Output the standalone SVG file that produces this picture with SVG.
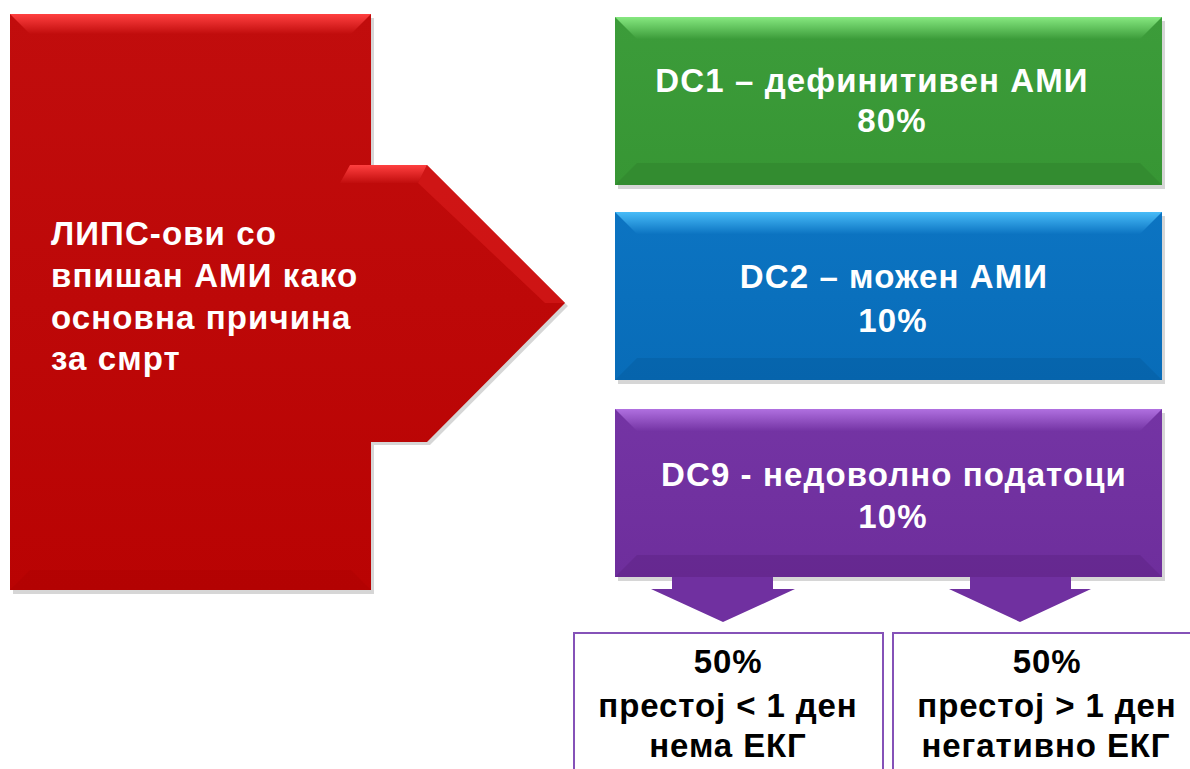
<svg xmlns="http://www.w3.org/2000/svg" width="1190" height="769" viewBox="0 0 1190 769">
<defs>
<style>
.w{font-family:"Liberation Sans",Arial,sans-serif;font-weight:bold;fill:#fff;font-size:33px;letter-spacing:1.1px}
.k{font-family:"Liberation Sans",Arial,sans-serif;font-weight:bold;fill:#000;font-size:33px;letter-spacing:0.9px}
.sh{fill:#c4c4c4;opacity:0.7}
.box{fill:#fff;stroke:#8552b8;stroke-width:2}
</style>
<linearGradient id="gR" x1="0" y1="0" x2="0" y2="1"><stop offset="0" stop-color="#c10d0d"/><stop offset="1" stop-color="#b90303"/></linearGradient>
<linearGradient id="bR" x1="0" y1="0" x2="0" y2="1"><stop offset="0" stop-color="#ff4040"/><stop offset="1" stop-color="#c10d0d"/></linearGradient>
<linearGradient id="gG" x1="0" y1="0" x2="0" y2="1"><stop offset="0" stop-color="#3c9c3a"/><stop offset="1" stop-color="#379634"/></linearGradient>
<linearGradient id="bG" x1="0" y1="0" x2="0" y2="1"><stop offset="0" stop-color="#86e880"/><stop offset="1" stop-color="#3c9c3a"/></linearGradient>
<linearGradient id="gB" x1="0" y1="0" x2="0" y2="1"><stop offset="0" stop-color="#0c74c2"/><stop offset="1" stop-color="#086cb8"/></linearGradient>
<linearGradient id="bB" x1="0" y1="0" x2="0" y2="1"><stop offset="0" stop-color="#48bcf8"/><stop offset="1" stop-color="#0c74c2"/></linearGradient>
<linearGradient id="gP" x1="0" y1="0" x2="0" y2="1"><stop offset="0" stop-color="#7434a4"/><stop offset="1" stop-color="#6e2e9c"/></linearGradient>
<linearGradient id="bP" x1="0" y1="0" x2="0" y2="1"><stop offset="0" stop-color="#b070e0"/><stop offset="1" stop-color="#7434a4"/></linearGradient>
</defs>

<g id="source">
<path class="sh" d="M13,18 H374 V169 H430 L568,306 L430,445 H374 V594 H13 Z"/>
<path fill="url(#gR)" d="M10,14 H371 V165 H427 L565,303 L427,442 H371 V590 H10 Z"/>
<polygon fill="url(#bR)" points="10,14 371,14 351,34 30,34"/>
<polygon fill="#a80202" opacity="0.35" points="10,590 371,590 351,570 30,570"/>
<polygon fill="url(#bR)" points="350,165 427,165 418,183 340,183"/>
<polygon fill="#e02020" opacity="0.5" points="427,165 565,303 545,303 418,183"/>
<text class="w" letter-spacing="0.9"><tspan x="51" y="245">ЛИПС-ови со</tspan><tspan x="51" y="287">впишан АМИ како</tspan><tspan x="51" y="329">основна причина</tspan><tspan x="51" y="370">за смрт</tspan></text>
</g>

<g id="dc1">
<rect class="sh" x="618" y="21" width="547" height="168"/>
<rect fill="url(#gG)" x="615" y="17" width="547" height="168"/>
<polygon fill="url(#bG)" points="615,17 1162,17 1140,39 637,39"/>
<polygon fill="#2d7d2b" opacity="0.4" points="615,185 1162,185 1140,163 637,163"/>
<text class="w" text-anchor="middle"><tspan x="872" y="92">DC1 – дефинитивен АМИ</tspan><tspan x="892" y="132">80%</tspan></text>
</g>

<g id="dc2">
<rect class="sh" x="618" y="216" width="547" height="168"/>
<rect fill="url(#gB)" x="615" y="212" width="547" height="168"/>
<polygon fill="url(#bB)" points="615,212 1162,212 1140,234 637,234"/>
<polygon fill="#055a9a" opacity="0.4" points="615,380 1162,380 1140,358 637,358"/>
<text class="w" text-anchor="middle"><tspan x="894" y="288">DC2 – можен АМИ</tspan><tspan x="893" y="332">10%</tspan></text>
</g>

<g id="dc9">
<rect class="sh" x="618" y="413" width="547" height="168"/>
<rect fill="url(#gP)" x="615" y="409" width="547" height="168"/>
<polygon fill="url(#bP)" points="615,409 1162,409 1140,431 637,431"/>
<polygon fill="#5a2080" opacity="0.4" points="615,577 1162,577 1140,555 637,555"/>
<text class="w" text-anchor="middle"><tspan x="894" y="486">DC9 - недоволно податоци</tspan><tspan x="893" y="528">10%</tspan></text>
</g>

<g id="connectors">
<polygon fill="#7030a0" points="672,577 773,577 773,589 795,589 723,622 651,589 672,589"/>
<polygon fill="#7030a0" points="970,577 1071,577 1071,589 1091,589 1020,622 949,589 970,589"/>
</g>

<g id="out1">
<rect class="box" x="574" y="633" width="309" height="150"/>
<text class="k" text-anchor="middle"><tspan x="728" y="673">50%</tspan><tspan x="728" y="717">престој &lt; 1 ден</tspan><tspan x="728" y="757">нема ЕКГ</tspan></text>
</g>

<g id="out2">
<rect class="box" x="893" y="633" width="310" height="150"/>
<text class="k" text-anchor="middle"><tspan x="1047" y="673">50%</tspan><tspan x="1047" y="717">престој &gt; 1 ден</tspan><tspan x="1046" y="757">негативно ЕКГ</tspan></text>
</g>
</svg>
